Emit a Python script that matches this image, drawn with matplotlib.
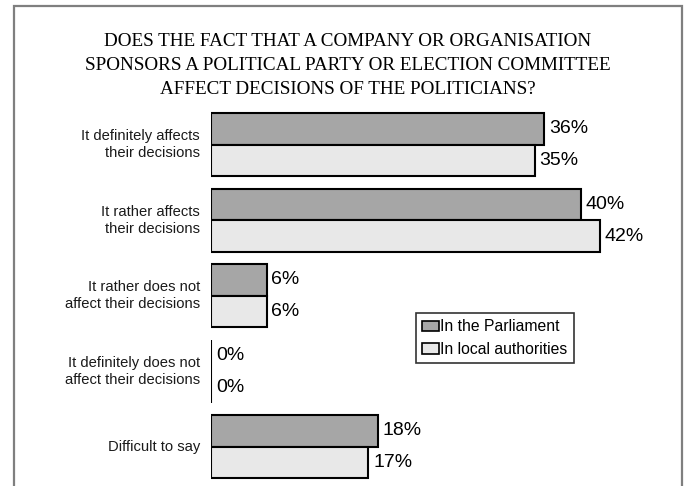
import matplotlib
matplotlib.use("Agg")
import matplotlib.pyplot as plt
import numpy as np
from matplotlib.patches import Rectangle

# ---------- Data ----------
categories = [
    "It definitely affects\ntheir decisions",
    "It rather affects\ntheir decisions",
    "It rather does not\naffect their decisions",
    "It definitely does not\naffect their decisions",
    "Difficult to say",
]
parliament = [36, 40, 6, 0, 18]
local_auth = [35, 42, 6, 0, 17]
series_names = ["In the Parliament", "In local authorities"]
title = ("DOES THE FACT THAT A COMPANY OR ORGANISATION\n"
         "SPONSORS A POLITICAL PARTY OR ELECTION COMMITTEE\n"
         "AFFECT DECISIONS OF THE POLITICIANS?")

# ---------- Figure ----------
W, H = 688, 486
fig = plt.figure(figsize=(W / 100, H / 100), dpi=100)

# outer grey frame (bottom edge falls outside the picture)
fig.patches.append(Rectangle((14 / W, -0.05), (682 - 14) / W, 1.05 - 6 / H,
                             transform=fig.transFigure, fill=False,
                             edgecolor="#7f7f7f", linewidth=1.6))

fig.text(348 / W, 1 - 65.5 / H, title, ha="center", va="center",
         family="Liberation Serif", fontsize=13.8, linespacing=1.56)

ax = fig.add_axes([211 / W, 0, 462.5 / W, 379 / H])
ax.set_xlim(0, 50)
ax.set_ylim(4.52, -0.5)
ax.axis("off")

y = np.arange(len(categories))
h = 0.42
dark = "#a6a6a6"
light = "#e8e8e8"
b1 = ax.barh(y - h / 2, parliament, height=h, color=dark, edgecolor="black",
             linewidth=1.5, label=series_names[0])
b2 = ax.barh(y + h / 2, local_auth, height=h, color=light, edgecolor="black",
             linewidth=1.5, label=series_names[1])

for bars, vals in ((b1, parliament), (b2, local_auth)):
    for bar, v in zip(bars, vals):
        ax.annotate(f"{v}%", (v, bar.get_y() + bar.get_height() / 2),
                    xytext=(3.5, 0), textcoords="offset points",
                    ha="left", va="center", family="Liberation Sans",
                    fontsize=14)

for yi, lab in zip(y, categories):
    ax.annotate(lab, (0, yi), xytext=(-8, 0), textcoords="offset points",
                ha="right", va="center", family="Liberation Sans",
                fontsize=10.6, linespacing=1.25, color="#1a1a1a")

leg = fig.legend(handles=[b1, b2], labels=series_names,
                 loc="upper left", bbox_to_anchor=(416 / W, 1 - 313 / H),
                 borderaxespad=0, frameon=True, fancybox=False,
                 edgecolor="black", handlelength=1.05, handleheight=0.65,
                 handletextpad=0.1, borderpad=0.4, labelspacing=0.5,
                 prop={"family": "Liberation Sans", "size": 11.3})
leg.get_frame().set_linewidth(1.2)
for p in leg.get_patches():
    p.set_linewidth(1.2)

fig.savefig("out.png", dpi=100)
